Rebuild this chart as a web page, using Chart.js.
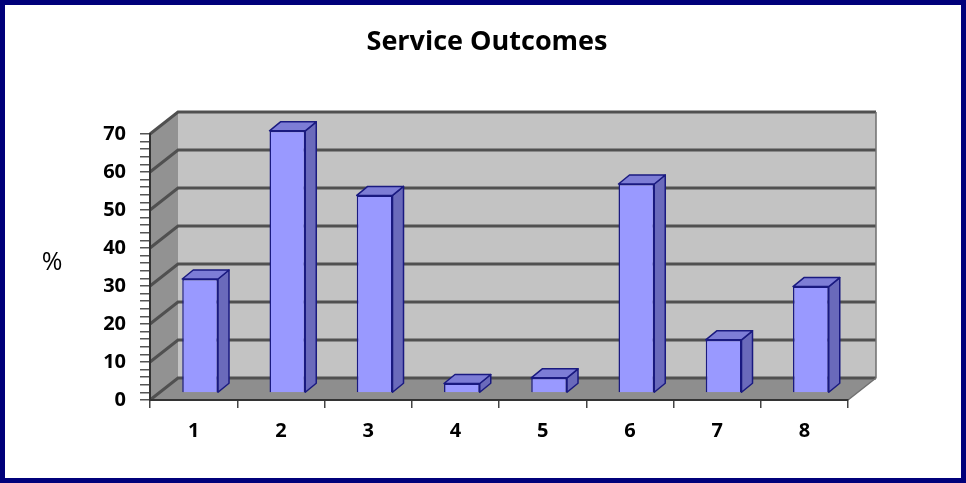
<!DOCTYPE html>
<html>
<head>
<meta charset="utf-8">
<script src="https://cdn.jsdelivr.net/npm/chart.js@4/dist/chart.umd.min.js"></script>
<style>
  html, body { margin: 0; padding: 0; background: #fff; }
  #wrap { width: 966px; height: 483px; }
</style>
</head>
<body>
<div id="wrap"><canvas id="outcomes-chart" width="966" height="483"></canvas></div>
<script>
const categories = ['1', '2', '3', '4', '5', '6', '7', '8'];
const outcomes = [30, 69, 52, 2.5, 4, 55, 14, 28];
const yMax = 70;
const gridStep = 10;
const yTitle = '%';

// fake 3d look: wall offset, bar offset inside the box, bar depth
const wall = { dx: 28, dy: -22 };
const barShift = { dx: 6.5, dy: -7 };
const barDepth = { dx: 11, dy: -9 };

function poly(ctx, pts, fill, stroke, lw) {
  ctx.beginPath();
  ctx.moveTo(pts[0][0], pts[0][1]);
  for (let i = 1; i < pts.length; i++) ctx.lineTo(pts[i][0], pts[i][1]);
  ctx.closePath();
  if (fill) { ctx.fillStyle = fill; ctx.fill(); }
  if (stroke) { ctx.strokeStyle = stroke; ctx.lineWidth = lw || 1; ctx.stroke(); }
}

const box3d = {
  id: 'box3d',
  beforeDraw(chart) {
    const ctx = chart.ctx;
    const a = chart.chartArea;
    const y = chart.scales.y;
    ctx.save();
    ctx.fillStyle = '#fff';
    ctx.fillRect(0, 0, chart.width, chart.height);
    ctx.strokeStyle = '#00007a';
    ctx.lineWidth = 5;
    ctx.strokeRect(2.5, 2.5, chart.width - 5, chart.height - 5);

    // back wall, left wall, floor
    ctx.fillStyle = '#c3c3c3';
    ctx.fillRect(a.left + wall.dx, a.top + wall.dy, a.width, a.height);
    poly(ctx, [[a.left, a.bottom], [a.left, a.top], [a.left + wall.dx, a.top + wall.dy], [a.left + wall.dx, a.bottom + wall.dy]], '#929292');
    poly(ctx, [[a.left, a.bottom], [a.right, a.bottom], [a.right + wall.dx, a.bottom + wall.dy], [a.left + wall.dx, a.bottom + wall.dy]], '#8e8e8e');

    // gridlines on the walls
    ctx.strokeStyle = '#505050';
    ctx.lineWidth = 3;
    for (let v = 0; v <= yMax; v += gridStep) {
      const yy = y.getPixelForValue(v);
      ctx.beginPath();
      ctx.moveTo(a.left, yy);
      ctx.lineTo(a.left + wall.dx, yy + wall.dy);
      ctx.lineTo(a.right + wall.dx, yy + wall.dy);
      ctx.stroke();
    }
    ctx.strokeStyle = '#707070';
    ctx.lineWidth = 1.5;
    ctx.beginPath();
    ctx.moveTo(a.right + wall.dx, a.top + wall.dy);
    ctx.lineTo(a.right + wall.dx, a.bottom + wall.dy);
    ctx.lineTo(a.right, a.bottom);
    ctx.stroke();

    // axis title, drawn upright like the original
    ctx.fillStyle = '#000';
    ctx.font = '25px "Open Sans"';
    ctx.textAlign = 'center';
    ctx.textBaseline = 'middle';
    ctx.fillText(yTitle, 52, (a.top + a.bottom) / 2 - 4);
    ctx.restore();
  },
  beforeDatasetsDraw(chart) {
    chart.ctx.save();
    chart.ctx.translate(barShift.dx, barShift.dy);
  },
  afterDatasetsDraw(chart) {
    const ctx = chart.ctx;
    ctx.restore();
    ctx.save();
    ctx.lineJoin = 'round';
    chart.getDatasetMeta(0).data.forEach(bar => {
      const l = bar.x - bar.width / 2 + barShift.dx;
      const r = bar.x + bar.width / 2 + barShift.dx;
      const t = bar.y + barShift.dy;
      const b = bar.base + barShift.dy;
      poly(ctx, [[r, t], [r + barDepth.dx, t + barDepth.dy], [r + barDepth.dx, b + barDepth.dy], [r, b]], '#6a6abb', '#1a1a80', 1.5);
      poly(ctx, [[l, t], [l + barDepth.dx, t + barDepth.dy], [r + barDepth.dx, t + barDepth.dy], [r, t]], '#7d7dd6', '#1a1a80', 1.5);
    });
    ctx.restore();
  }
};

const tickFont = { family: '"Open Sans"', size: 20, weight: 'bold' };

new Chart(document.getElementById('outcomes-chart'), {
  type: 'bar',
  data: {
    labels: categories,
    datasets: [{
      data: outcomes,
      backgroundColor: '#9999ff',
      borderColor: '#1a1a80',
      borderWidth: 1.5,
      categoryPercentage: 1,
      barPercentage: 0.41,
      clip: false
    }]
  },
  options: {
    responsive: false,
    animation: false,
    layout: { padding: { top: 15, left: 90, right: 82, bottom: 33 } },
    plugins: {
      legend: { display: false },
      tooltip: { enabled: false },
      title: {
        display: true,
        text: 'Service Outcomes',
        color: '#000',
        font: { family: '"Open Sans"', size: 27, weight: 'bold' },
        padding: { top: 11, bottom: 75.6 }
      }
    },
    scales: {
      x: {
        afterFit: s => { s.height = 50; },
        grid: { drawOnChartArea: false, tickLength: 8, color: '#444', lineWidth: 1.5 },
        border: { color: '#333', width: 2 },
        ticks: { color: '#000', font: tickFont, padding: 11 }
      },
      y: {
        min: 0,
        max: yMax,
        afterFit: s => { s.width = 60; },
        grid: { drawOnChartArea: false, tickLength: 10, color: '#555', lineWidth: 1.5 },
        border: { color: '#333', width: 2 },
        ticks: {
          stepSize: 2,
          autoSkip: false,
          color: '#000',
          font: tickFont,
          padding: 14,
          callback: v => (v % gridStep === 0 ? v : '')
        }
      },
      // empty spacer on the right so the title sits where it does in the original
      spacer: {
        type: 'linear',
        position: 'right',
        afterFit: s => { s.width = 36; },
        grid: { display: false },
        border: { display: false },
        ticks: { display: false }
      }
    }
  },
  plugins: [box3d]
});
</script>
</body>
</html>
